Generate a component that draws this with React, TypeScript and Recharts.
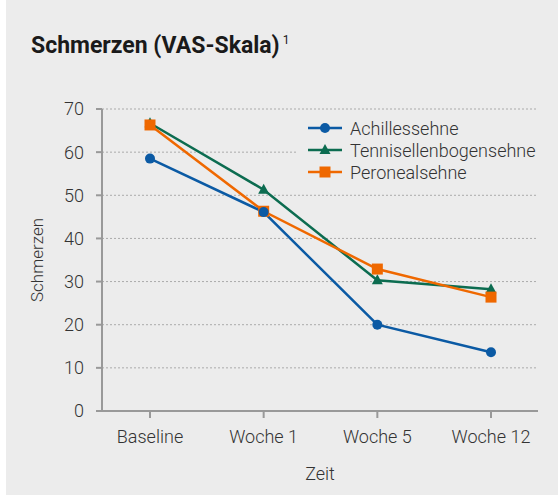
import {
  CartesianGrid,
  Legend,
  Line,
  LineChart,
  XAxis,
  YAxis,
} from "recharts";

const categories = ["Baseline", "Woche 1", "Woche 5", "Woche 12"];
const achillessehne = [58.5, 46.1, 20.0, 13.6];
const tennisellenbogensehne = [66.7, 51.3, 30.3, 28.2];
const peronealsehne = [66.3, 46.3, 32.9, 26.4];
const yTicks = [0, 10, 20, 30, 40, 50, 60, 70];

const data = categories.map((name, i) => ({
  name,
  achilles: achillessehne[i],
  tennis: tennisellenbogensehne[i],
  peroneal: peronealsehne[i],
}));

const BLUE = "#0b5aa4";
const GREEN = "#0c6c50";
const ORANGE = "#ef6800";
const BG = "#ececec";
const FONT = "Roboto, 'DejaVu Sans', sans-serif";

const series = [
  { key: "achilles", name: "Achillessehne", color: BLUE, shape: "circle" },
  { key: "tennis", name: "Tennisellenbogensehne", color: GREEN, shape: "triangle" },
  { key: "peroneal", name: "Peronealsehne", color: ORANGE, shape: "square" },
];

const marker = (shape: string, color: string, x: number, y: number, key?: string) => {
  if (shape === "circle") return <circle key={key} cx={x} cy={y} r={5} fill={color} />;
  if (shape === "square")
    return <rect key={key} x={x - 5.5} y={y - 5.5} width={11} height={11} fill={color} />;
  return (
    <polygon
      key={key}
      points={`${x},${y - 6} ${x + 5.5},${y + 4} ${x - 5.5},${y + 4}`}
      fill={color}
    />
  );
};

const makeDot = (shape: string, color: string) => (props: any) =>
  marker(shape, color, props.cx, props.cy, `${shape}-${props.index}`);

const renderLegend = () => (
  <div style={{ background: BG, paddingLeft: 12 }}>
    {series.map((s) => (
      <div key={s.key} style={{ display: "flex", alignItems: "center", height: 22 }}>
        <svg width={42} height={22}>
          <line x1={0} x2={34} y1={11} y2={11} stroke={s.color} strokeWidth={2.5} />
          {marker(s.shape, s.color, 17, 11)}
        </svg>
        <span style={{ fontFamily: FONT, fontWeight: 300, fontSize: 18, color: "#333", whiteSpace: "nowrap" }}>
          {s.name}
        </span>
      </div>
    ))}
  </div>
);

export default function App() {
  return (
    <div style={{ position: "fixed", left: 0, top: 0, width: 559, height: 495, background: "#fff" }}>
      <div style={{ position: "absolute", left: 6, top: 0, width: 552, height: 495, background: BG }}>
        <div
          style={{
            position: "absolute",
            left: 25,
            top: 32,
            fontFamily: FONT,
            fontWeight: 700,
            fontSize: 23,
            color: "#1a1a1a",
            whiteSpace: "nowrap",
          }}
        >
          Schmerzen (VAS-Skala)<sup style={{ fontSize: 12, fontWeight: 400, marginLeft: 3 }}>1</sup>
        </div>
        <LineChart
          width={552}
          height={495}
          data={data}
          margin={{ top: 109, right: 20, bottom: 24, left: 0 }}
          style={{ position: "absolute", left: 0, top: 0 }}
        >
          <CartesianGrid vertical={false} stroke="#aaa" strokeDasharray="2 2" />
          <XAxis
            dataKey="name"
            height={60}
            interval={0}
            padding={{ left: 48, right: 47 }}
            stroke="#999"
            strokeWidth={2}
            tickSize={7}
            tickMargin={12}
            tick={{ fill: "#333", fontSize: 18, fontFamily: FONT, fontWeight: 300 }}
            label={{
              value: "Zeit",
              position: "insideBottom",
              offset: -9,
              fill: "#333",
              fontSize: 18,
              fontFamily: FONT,
              fontWeight: 300,
            }}
          />
          <YAxis
            width={96}
            domain={[0, 70]}
            ticks={yTicks}
            interval={0}
            stroke="#999"
            strokeWidth={2}
            tickSize={6}
            tickMargin={12}
            tick={{ fill: "#333", fontSize: 18, fontFamily: FONT, fontWeight: 300 }}
            label={{
              value: "Schmerzen",
              angle: -90,
              position: "insideLeft",
              offset: 31,
              style: { textAnchor: "middle" },
              fill: "#333",
              fontSize: 17,
              fontFamily: FONT,
              fontWeight: 300,
            }}
          />
          <Legend
            verticalAlign="middle"
            align="center"
            layout="vertical"
            content={renderLegend}
            wrapperStyle={{ top: 117, left: 290, width: 250 }}
          />
          <Line
            dataKey="tennis"
            name="Tennisellenbogensehne"
            stroke={GREEN}
            strokeWidth={2.5}
            dot={makeDot("triangle", GREEN)}
            activeDot={false}
            isAnimationActive={false}
          />
          <Line
            dataKey="peroneal"
            name="Peronealsehne"
            stroke={ORANGE}
            strokeWidth={2.5}
            dot={makeDot("square", ORANGE)}
            activeDot={false}
            isAnimationActive={false}
          />
          <Line
            dataKey="achilles"
            name="Achillessehne"
            stroke={BLUE}
            strokeWidth={2.5}
            dot={makeDot("circle", BLUE)}
            activeDot={false}
            isAnimationActive={false}
          />
        </LineChart>
      </div>
    </div>
  );
}
